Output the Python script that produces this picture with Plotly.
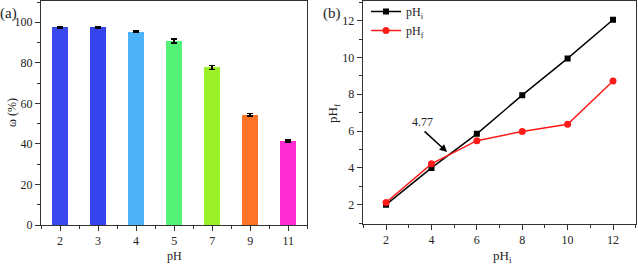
import plotly.graph_objects as go

# ---- data ----
ph_categories = ["2", "3", "4", "5", "7", "9", "11"]
omega_values = [97.5, 97.6, 95.3, 90.7, 77.8, 54.4, 41.5]
omega_errors = [0.3, 0.3, 0.3, 1.0, 1.0, 0.6, 0.5]
bar_colors = ["#3a48ef", "#3444ee", "#4db2f8", "#55f278", "#9cf027", "#ff7326", "#ff2cd4"]

ph_initial = [2, 4, 6, 8, 10, 12]
ph_i_values = [2.0, 4.0, 5.85, 7.95, 9.95, 12.05]
ph_f_values = [2.12, 4.22, 5.48, 5.98, 6.37, 8.72]

W, H = 638, 265
def px(x): return x / W
def py(y): return 1 - y / H

FONT = "Liberation Serif, Times New Roman, serif"
LINE = "#333333"
TXT = "#222222"

fig = go.Figure()

xpos = list(range(len(ph_categories)))
fig.add_trace(go.Bar(
    x=xpos, y=omega_values, width=0.42,
    marker=dict(color=bar_colors, line=dict(width=0)),
    error_y=dict(type="data", array=omega_errors, color="black", thickness=1.5, width=3),
    showlegend=False, xaxis="x", yaxis="y",
))

fig.add_trace(go.Scatter(
    x=ph_initial, y=ph_i_values, mode="lines+markers", name="pH<sub>i</sub>",
    line=dict(color="black", width=1.5), marker=dict(symbol="square", size=6, color="black"),
    xaxis="x2", yaxis="y2",
))
fig.add_trace(go.Scatter(
    x=ph_initial, y=ph_f_values, mode="lines+markers", name="pH<sub>f</sub>",
    line=dict(color="#ff1a1a", width=1.5), marker=dict(symbol="circle", size=7, color="#ff1a1a"),
    xaxis="x2", yaxis="y2",
))

axis_common = dict(
    showline=True, linecolor=LINE, linewidth=1, mirror=True,
    ticks="outside", ticklen=5, tickwidth=1, tickcolor=LINE,
    showgrid=False, zeroline=False, automargin=False,
    tickfont=dict(family=FONT, size=12, color=TXT),
)

fig.update_layout(
    width=W, height=H,
    margin=dict(l=0, r=0, t=0, b=0, autoexpand=False),
    paper_bgcolor="white", plot_bgcolor="white",
    font=dict(family=FONT, size=12, color=TXT),
    bargap=0,
    xaxis=dict(domain=[px(41), px(307.3)], anchor="y", range=[-0.5, 6.5],
               tickmode="array", tickvals=xpos, ticktext=ph_categories,
               minor=dict(tickmode="linear", tick0=0.5, dtick=1, ticks="outside", ticklen=3, tickcolor=LINE),
               **axis_common),
    yaxis=dict(domain=[py(225), py(1)], anchor="x", range=[0, 110.5],
               tickmode="linear", tick0=0, dtick=20,
               minor=dict(tickmode="linear", tick0=10, dtick=20, ticks="outside", ticklen=3, tickcolor=LINE),
               **axis_common),
    xaxis2=dict(domain=[px(362.7), px(635.7)], anchor="y2", range=[0.97, 13.0],
                tickmode="linear", tick0=2, dtick=2,
                minor=dict(tickmode="linear", tick0=1, dtick=1, ticks="outside", ticklen=3, tickcolor=LINE),
                **axis_common),
    yaxis2=dict(domain=[py(224), py(1)], anchor="x2", range=[0.95, 13.07],
                tickmode="linear", tick0=2, dtick=2,
                minor=dict(tickmode="linear", tick0=1, dtick=1, ticks="outside", ticklen=3, tickcolor=LINE),
                **axis_common),
    legend=dict(x=px(366), y=py(-3), xanchor="left", yanchor="top",
                bgcolor="rgba(0,0,0,0)", font=dict(family=FONT, size=12, color=TXT),
                tracegroupgap=0, itemwidth=30),
)

def lab(text, x, y, size=12, angle=0):
    return dict(text=text, x=px(x), y=py(y), xref="paper", yref="paper", xanchor="center",
                yanchor="middle", textangle=angle, showarrow=False,
                font=dict(family=FONT, size=size, color=TXT))

ann = [
    lab("(a)", 8.5, 14, 15),
    lab("(b)", 332, 14, 15),
    lab("ω (%)", 12, 113, 12, -90),
    lab("pH", 174, 256, 12),
    lab("pH<sub>f</sub>", 333, 113, 13, -90),
    lab("pH<sub>i</sub>", 502, 256, 13),
    dict(text="4.77", x=3.59, y=6.52, xref="x2", yref="y2", xanchor="center", yanchor="middle",
         showarrow=False, font=dict(family=FONT, size=12, color=TXT)),
    dict(text="", x=4.69, y=4.86, xref="x2", yref="y2", ax=3.63, ay=6.06, axref="x2", ayref="y2",
         showarrow=True, arrowhead=2, arrowsize=1, arrowwidth=1.5, arrowcolor="black"),
]
fig.update_layout(annotations=ann)

fig.write_html("out.html", config={"displayModeBar": False},
               post_script="document.body.style.margin='0';")
